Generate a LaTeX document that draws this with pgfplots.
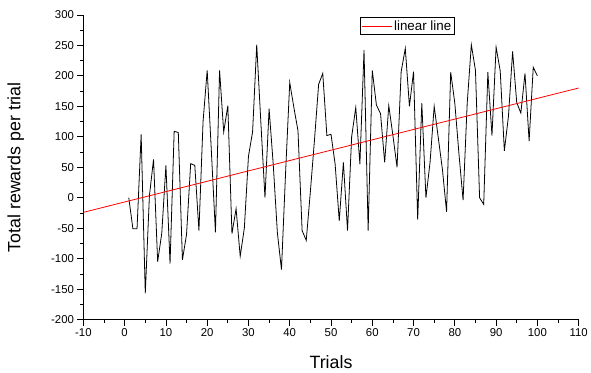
\documentclass[border=0pt]{standalone}
\usepackage{fontspec}
\setmainfont{Liberation Sans}
\usepackage{pgfplots}
\pgfplotsset{compat=1.18}
\begin{document}
\begin{tikzpicture}
\begin{axis}[name=ax, scale only axis, width=499bp, height=307bp,
  xmin=-10, xmax=110, ymin=-200, ymax=300,
  axis x line*=bottom, axis y line*=left,
  x axis line style={-}, y axis line style={-},
  axis line style={line width=0.8bp},
  xtick={-10,0,...,110}, ytick={-200,-150,...,300},
  minor x tick num=1, minor y tick num=1,
  tick align=outside, major tick length=6bp, minor tick length=3bp,
  tick style={black, line width=0.7bp},
  ticklabel style={font=\fontsize{11.5}{13}\selectfont},
  /pgf/number format/assume math mode=true,
  xlabel={Trials}, ylabel={Total rewards per trial},
  every axis x label/.style={at={(axis description cs:0.5,0)}, yshift=-43bp, anchor=center, font=\fontsize{18}{21}\selectfont},
  every axis y label/.style={at={(axis description cs:0,0.5)}, xshift=-68bp, rotate=90, anchor=center, font=\fontsize{18}{21}\selectfont},
  legend style={at={(0.559,0.993)}, anchor=north west, draw=black, line width=0.7bp, font=\fontsize{13.5}{15}\selectfont, inner sep=1bp},
  legend image code/.code={\draw[red, line width=0.8bp] (0bp,0bp) -- (30bp,0bp);},
]
\addplot[black, line width=0.8bp, forget plot] coordinates {
(1,0) (2,-51) (3,-51) (4,104) (5,-157) (6,3) (7,63) (8,-105) (9,-58) (10,53)
(11,-108) (12,109) (13,107) (14,-102) (15,-60) (16,56) (17,53) (18,-54) (19,125) (20,209)
(21,78) (22,-57) (23,209) (24,108) (25,151) (26,-59) (27,-18) (28,-96) (29,-50) (30,68)
(31,108) (32,251) (33,124) (34,0) (35,146) (36,55) (37,-57) (38,-118) (39,42) (40,189)
(41,148) (42,110) (43,-54) (44,-70) (45,10) (46,95) (47,186) (48,204) (49,102) (50,104)
(51,55) (52,-38) (53,58) (54,-54) (55,100) (56,148) (57,55) (58,242) (59,-54) (60,209)
(61,152) (62,138) (63,58) (64,151) (65,102) (66,50) (67,207) (68,245) (69,150) (70,207)
(71,-36) (72,155) (73,0) (74,58) (75,150) (76,98) (77,46) (78,-23) (79,206) (80,155)
(81,72) (82,-4) (83,155) (84,251) (85,209) (86,0) (87,-11) (88,206) (89,102) (90,247)
(91,208) (92,77) (93,134) (94,240) (95,156) (96,139) (97,204) (98,93) (99,214) (100,200)
};
\addplot[red, line width=0.8bp] coordinates {(-10,-24) (110,180)};
\addlegendentry{linear line}
\end{axis}
\path ([shift={(-84bp,-53bp)}]ax.south west) rectangle ++(591bp,375bp);
\end{tikzpicture}
\end{document}
